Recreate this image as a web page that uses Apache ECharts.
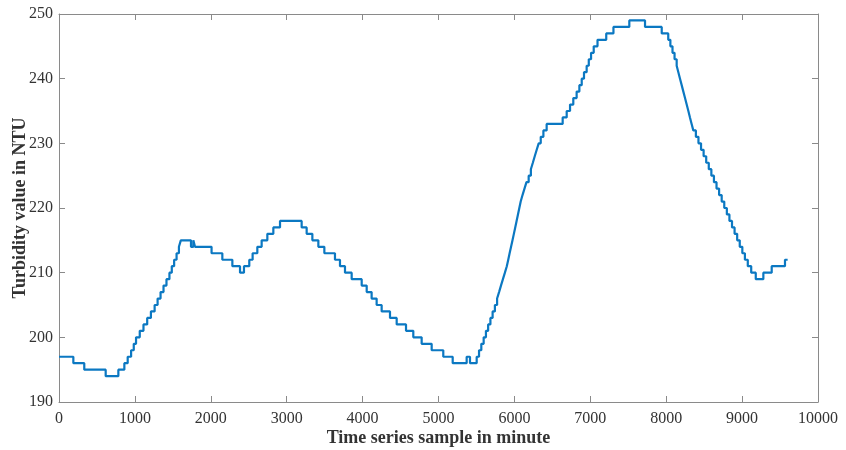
<!DOCTYPE html>
<html>
<head>
<meta charset="utf-8">
<script src="https://cdn.jsdelivr.net/npm/echarts@6/dist/echarts.min.js"></script>
<style>
html,body{margin:0;padding:0;background:#fff;}
#chart{width:846px;height:450px;}
</style>
</head>
<body>
<div id="chart"></div>
<script>
// Change points of the step series: time (minute) where a new turbidity level starts
var stepTimes = [
  0, 189, 333, 615, 782, 861, 905, 950, 985, 1015, 1064, 1113, 1162, 1211, 1260, 1299, 1338, 1377, 1416, 1455, 1486, 1517, 1549, 1580, 1605,
  1739, 1770, 1792, 2010, 2152, 2284, 2385, 2437, 2507, 2551, 2613, 2670, 2745, 2824, 2912,
  3197, 3263, 3338, 3417, 3496, 3636, 3702, 3768, 3856, 3988, 4054, 4119, 4185, 4251, 4361, 4449, 4572, 4668, 4778, 4910, 5063, 5187, 5371, 5415,
  5503, 5534, 5564, 5595, 5625, 5654, 5684, 5713, 5743, 5772, 5798, 5823, 5849, 5875, 5900, 5919, 5937, 5956, 5975, 5993, 6011, 6029, 6047, 6065, 6083, 6107, 6133, 6159, 6188, 6217, 6243, 6268, 6294, 6320, 6347, 6382, 6425,
  6636, 6689, 6733, 6776, 6820, 6856, 6887, 6917, 6952, 6980, 7010, 7045, 7095, 7210, 7305, 7514,
  7721, 7941, 8027, 8055, 8083, 8110, 8138, 8160, 8182, 8204, 8226, 8248, 8270, 8292, 8313, 8335, 8357, 8391, 8425, 8459, 8493, 8527, 8561, 8595, 8629, 8663, 8697, 8731, 8765, 8799, 8833, 8867, 8901, 8935, 8969, 9003, 9037, 9075, 9120, 9180,
  9280, 9390, 9565, 9600
];
// Turbidity level (NTU) starting at each change point
var stepValues = [
  197, 196, 195, 194, 195, 196, 197, 198, 199, 200, 201, 202, 203, 204, 205, 206, 207, 208, 209, 210, 211, 212, 213, 214, 215,
  214, 215, 214, 213, 212, 211, 210, 211, 212, 213, 214, 215, 216, 217, 218,
  217, 216, 215, 214, 213, 212, 211, 210, 209, 208, 207, 206, 205, 204, 203, 202, 201, 200, 199, 198, 197, 196, 197, 196,
  197, 198, 199, 200, 201, 202, 203, 204, 205, 206, 207, 208, 209, 210, 211, 212, 213, 214, 215, 216, 217, 218, 219, 220, 221, 222, 223, 224, 225, 226, 227, 228, 229, 230, 231, 232, 233,
  234, 235, 236, 237, 238, 239, 240, 241, 242, 243, 244, 245, 246, 247, 248, 249,
  248, 247, 246, 245, 244, 243, 242, 241, 240, 239, 238, 237, 236, 235, 234, 233, 232, 231, 230, 229, 228, 227, 226, 225, 224, 223, 222, 221, 220, 219, 218, 217, 216, 215, 214, 213, 212, 211, 210, 209,
  210, 211, 212, 212
];
var xTicks = { min: 0, max: 10000, interval: 1000 };
var yTicks = { min: 190, max: 250, interval: 10 };
var xTitle = 'Time series sample in minute';
var yTitle = 'Turbidity value in NTU';

var seriesData = stepTimes.map(function (t, i) { return [t, stepValues[i]]; });

var serif = 'Liberation Serif, Times New Roman, serif';
var axisCol = '#8a8a8a';
var textCol = '#333333';
function plain(v) { return String(v); }

var chart = echarts.init(document.getElementById('chart'), null, { renderer: 'canvas' });
function baseX(extra) {
  return Object.assign({
    type: 'value', min: xTicks.min, max: xTicks.max, interval: xTicks.interval,
    splitLine: { show: false },
    axisLine: { show: true, onZero: false, lineStyle: { color: axisCol, width: 1 } },
    axisTick: { show: true, inside: true, length: 6, lineStyle: { color: axisCol } },
    axisLabel: { show: true, color: textCol, fontFamily: serif, fontSize: 16, margin: 9, formatter: plain }
  }, extra);
}
function baseY(extra) {
  return Object.assign({
    type: 'value', min: yTicks.min, max: yTicks.max, interval: yTicks.interval,
    splitLine: { show: false },
    axisLine: { show: true, onZero: false, lineStyle: { color: axisCol, width: 1 } },
    axisTick: { show: true, inside: true, length: 6, lineStyle: { color: axisCol } },
    axisLabel: { show: true, color: textCol, fontFamily: serif, fontSize: 16, margin: 6, formatter: plain }
  }, extra);
}
chart.setOption({
  animation: false,
  backgroundColor: '#ffffff',
  grid: { left: 59, right: 28, top: 14, bottom: 48, containLabel: false, outerBoundsMode: 'none' },
  xAxis: [
    baseX({ position: 'bottom', name: xTitle, nameLocation: 'middle', nameGap: 27, nameMoveOverlap: false,
      nameTextStyle: { color: textCol, fontFamily: serif, fontSize: 18, fontWeight: 'bold' } }),
    baseX({ position: 'top', axisLabel: { show: false } })
  ],
  yAxis: [
    baseY({ position: 'left', name: yTitle, nameLocation: 'middle', nameGap: 30, nameMoveOverlap: false,
      nameTextStyle: { color: textCol, fontFamily: serif, fontSize: 18, fontWeight: 'bold' } }),
    baseY({ position: 'right', axisLabel: { show: false } })
  ],
  series: [{
    type: 'line',
    xAxisIndex: 0, yAxisIndex: 0,
    step: 'end',
    data: seriesData,
    showSymbol: false,
    lineStyle: { color: '#0b78c2', width: 2.2 },
    itemStyle: { color: '#0b78c2' }
  }]
});
</script>
</body>
</html>
